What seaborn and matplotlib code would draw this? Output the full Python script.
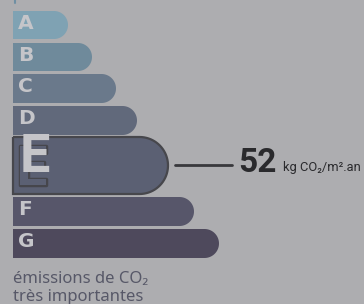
import numpy as np
import matplotlib.pyplot as plt
import seaborn as sns
from matplotlib.path import Path
from matplotlib.patches import PathPatch
import matplotlib.patheffects as pe

# GES label data
classes = ["A", "B", "C", "D", "E", "F", "G"]
bar_len = [55, 79, 103, 124, 155, 181, 206]
colors = ["#7fa2b3", "#6f8a9b", "#6a798b", "#61697b", "#5b6073", "#57566a", "#4e495c"]
current = "E"
value = "52"
unit = "kg CO₂/m².an"
caption = ["émissions de CO₂", "très importantes"]

bg = "#adadb0"

# pixel layout of each bar (top, bottom)
tops = [11, 43, 74, 106, 137, 197, 229]
bottoms = [39, 71, 103, 135, 194, 226, 258]

sns.set_style("white")
fig = plt.figure(figsize=(3.64, 3.04), dpi=100)
fig.patch.set_facecolor(bg)
ax = fig.add_axes([0, 0, 1, 1])
ax.set_facecolor(bg)

sns.barplot(x=bar_len, y=classes, hue=classes, palette=colors, orient="h",
            legend=False, saturation=1, ax=ax)

ax.set_xlim(-13, 351)
ax.set_ylim(304, 0)
ax.axis("off")


def rounded_bar(w, top, bot):
    r = (bot - top) / 2
    mid = (top + bot) / 2
    t = np.linspace(-np.pi / 2, np.pi / 2, 40)
    verts = [(0, top)] + [(w - r + r * np.cos(a), mid + r * np.sin(a)) for a in t] + [(0, bot), (0, top)]
    return Path(verts)


for p, cl, top, bot in zip(ax.patches, classes, tops, bottoms):
    w = p.get_width()
    fc = p.get_facecolor()
    p.set_visible(False)
    if cl == current:
        ax.add_patch(PathPatch(rounded_bar(w, top, bot), facecolor=fc,
                               edgecolor="#47474c", lw=1.6, zorder=3))
        # shadow letter + big letter
        ax.text(4, top + 48, cl, fontsize=39, fontweight="bold", color=fc,
                family=["Roboto", "DejaVu Sans"], va="baseline", ha="left", zorder=4,
                path_effects=[pe.withStroke(linewidth=2.5, foreground="#46464c")])
        ax.text(7, top + 35, cl, fontsize=39, fontweight="bold", color="#c5c5c9",
                family=["Roboto", "DejaVu Sans"], va="baseline", ha="left", zorder=5)
        mid = (top + bot) / 2
        ax.plot([w + 7, w + 64], [mid - 1, mid - 1], color="#38383c", lw=2, zorder=3)
        ax.text(w + 70, mid + 6, value, fontsize=24, fontweight="bold", color="#2a2a2d",
                family=["Roboto", "DejaVu Sans"], va="baseline", ha="left")
        ax.text(w + 115, mid + 6, unit, fontsize=9.3, color="#2a2a2d",
                family=["Roboto", "DejaVu Sans"], va="baseline", ha="left")
    else:
        ax.add_patch(PathPatch(rounded_bar(w, top, bot), facecolor=fc,
                               edgecolor="none", zorder=3))
        ax.text(5, top + 18, cl, fontsize=14.5, fontweight="bold", color="#c5c5c9",
                family=["DejaVu Sans"], va="baseline", ha="left", zorder=4)

# small cut-off mark at the top
ax.plot([1.5, 1.5], [0, 3], color="#6f8fa3", lw=1.5)

ax.text(0, 283, caption[0], fontsize=12, color="#575868",
        family=["Noto Sans", "DejaVu Sans"], va="baseline", ha="left")
ax.text(0, 301, caption[1], fontsize=12, color="#575868",
        family=["Noto Sans", "DejaVu Sans"], va="baseline", ha="left")

fig.savefig("out.png", dpi=100, facecolor=bg)
